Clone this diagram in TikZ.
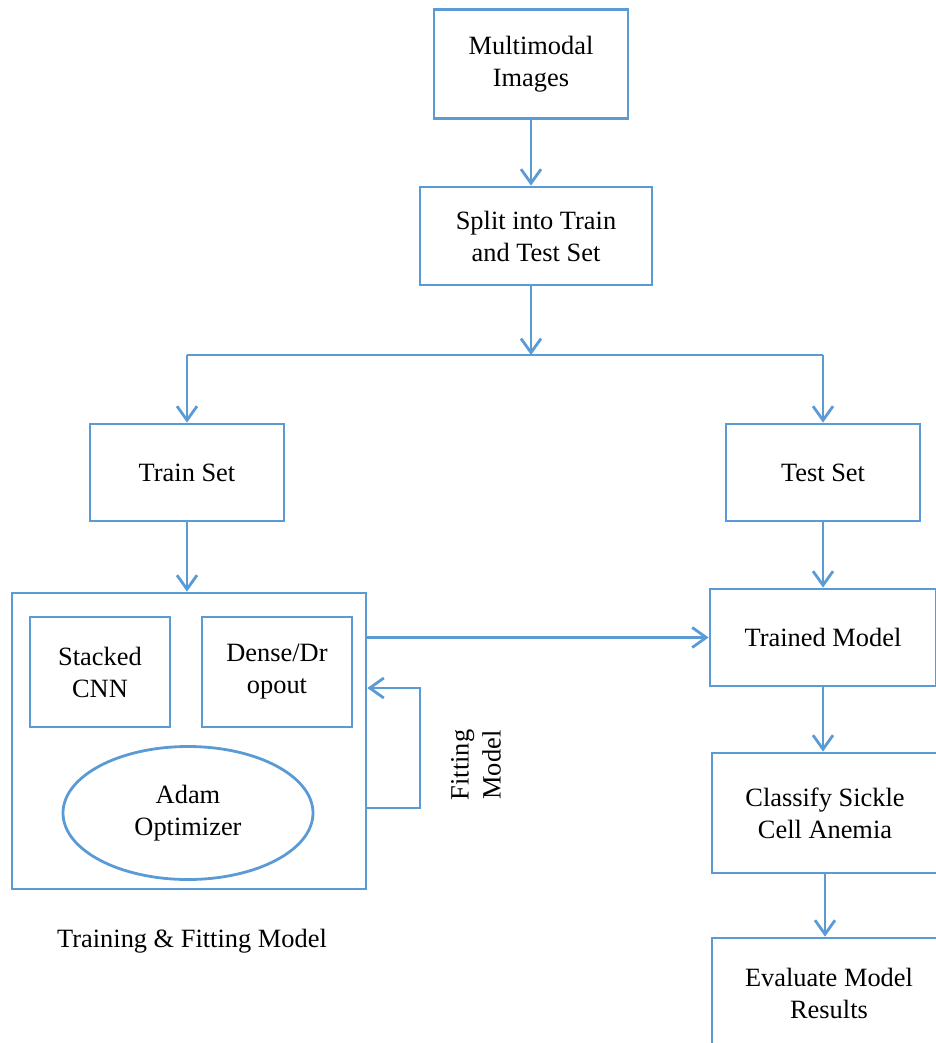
\documentclass[tikz,border=0pt]{standalone}
\usepackage{fontspec}
\setmainfont{Liberation Serif}
\usetikzlibrary{arrows.meta,shapes.geometric}
\definecolor{flowblue}{RGB}{91,155,213}

\begin{document}
\begin{tikzpicture}[x=0.5pt, y=-0.5pt, >={Straight Barb[length=7pt,width=10pt]},
  line join=miter,
  box/.style={draw=flowblue, line width=1.4pt, align=center, inner sep=0pt,
    font=\fontsize{13.2}{16}\selectfont},
  flow/.style={draw=flowblue, line width=1.4pt, ->}]
  \useasboundingbox (0,0) rectangle (936,1043);
  \clip (0,0) rectangle (936,1043);

  % Top of the pipeline
  \node[box, minimum width=97pt, minimum height=54.5pt] (images) at (531,64) {Multimodal\\Images};
  \node[box, minimum width=116pt, minimum height=49pt] (split) at (536,236) {Split into Train\\and Test Set};

  % Train / test branches
  \node[box, minimum width=97pt, minimum height=48.5pt] (train) at (187,472.5) {Train Set};
  \node[box, minimum width=97pt, minimum height=48.5pt] (test) at (823,472.5) {Test Set};
  \coordinate (fork) at (531,355);

  % Training block
  \node[box, minimum width=177pt, minimum height=148pt] (fitbox) at (189,741) {};
  \node[box, minimum width=70pt, minimum height=55pt] (cnn) at (100,672) {Stacked\\CNN};
  \node[box, minimum width=75pt, minimum height=55pt] (dense) at (277,672) {Dense/Dr\\opout};
  \node[box, ellipse, minimum width=125pt, minimum height=66.5pt] (adam) at (188,813) {Adam\\Optimizer};
  \node[font=\fontsize{13.2}{16}\selectfont] (caption) at (192,941) {Training \& Fitting Model};

  % Feedback loop
  \coordinate (loopout) at (420,808);
  \coordinate (loopin) at (420,688);
  \node[rotate=90, align=center, font=\fontsize{13.2}{16}\selectfont] (fitlabel) at (476,765) {Fitting\\Model};

  % Right column
  \node[box, minimum width=113pt, minimum height=48.5pt] (trained) at (823,637.5) {Trained Model};
  \node[box, minimum width=113pt, minimum height=60pt] (classify) at (825,813) {Classify Sickle\\Cell Anemia};
  \node[box, minimum width=117pt, minimum height=55pt] (evaluate) at (829,993) {Evaluate Model\\Results};

  % Connectors
  \draw[flow] (images.south) -- (images.south |- split.north);
  \draw[flow] (images.south |- split.south) -- (fork);
  \draw[draw=flowblue, line width=1.4pt] (fork -| train.north) -- (fork -| test.north);
  \draw[flow] (fork -| train.north) -- (train.north);
  \draw[flow] (fork -| test.north) -- (test.north);
  \draw[flow] (train.south) -- (fitbox.north -| train.south);
  \draw[flow] (test.south) -- (trained.north -| test.south);
  \draw[flow] (fitbox.east |- trained.west) -- (trained.west);
  \draw[flow] (fitbox.east |- loopout) -- (loopout) -- (loopin) -- (fitbox.east |- loopin);
  \draw[flow] (trained.south) -- (classify.north -| trained.south);
  \draw[flow] (classify.south) -- (evaluate.north -| classify.south);
\end{tikzpicture}
\end{document}
